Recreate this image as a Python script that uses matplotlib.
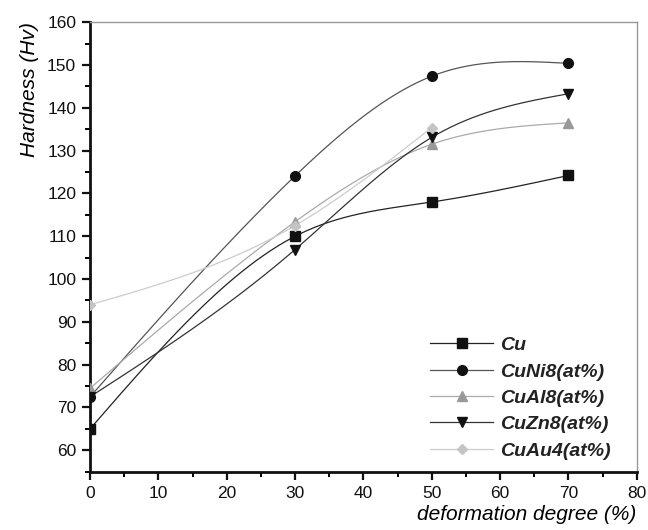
import numpy as np
import matplotlib
matplotlib.use("Agg")
import matplotlib.pyplot as plt
from matplotlib.ticker import MultipleLocator

plt.rcParams['font.family'] = ['Liberation Sans', 'DejaVu Sans']

deform = [0, 30, 50, 70]
deform_au = [0, 30, 50]
cu = [65, 110, 118, 124.2]
cuni8 = [72.5, 124.1, 147.4, 150.4]
cual8 = [74.5, 113.4, 131.5, 136.5]
cuzn8 = [72.5, 106.9, 133.1, 143.3]
cuau4 = [94, 112.5, 135.4]

labels = ["Cu", "CuNi8(at%)", "CuAl8(at%)", "CuZn8(at%)", "CuAu4(at%)"]


def natural_spline(x, y, n=200):
    x = np.asarray(x, float)
    y = np.asarray(y, float)
    k = len(x)
    h = np.diff(x)
    A = np.zeros((k, k))
    b = np.zeros(k)
    A[0, 0] = 1
    A[-1, -1] = 1
    for i in range(1, k - 1):
        A[i, i - 1] = h[i - 1]
        A[i, i] = 2 * (h[i - 1] + h[i])
        A[i, i + 1] = h[i]
        b[i] = 3 * ((y[i + 1] - y[i]) / h[i] - (y[i] - y[i - 1]) / h[i - 1])
    c = np.linalg.solve(A, b)
    xs = np.linspace(x[0], x[-1], n)
    ys = np.empty_like(xs)
    for j, xv in enumerate(xs):
        i = min(np.searchsorted(x, xv, side='right') - 1, k - 2)
        dx = xv - x[i]
        bi = (y[i + 1] - y[i]) / h[i] - h[i] * (2 * c[i] + c[i + 1]) / 3
        di = (c[i + 1] - c[i]) / (3 * h[i])
        ys[j] = y[i] + bi * dx + c[i] * dx ** 2 + di * dx ** 3
    return xs, ys


fig = plt.figure(figsize=(6.48, 5.30), dpi=100)
ax = fig.add_axes([0.139, 0.110, 0.8436, 0.848])

series = [
    (deform, cu, 's', '#111111', '#222222'),
    (deform, cuni8, 'o', '#111111', '#555555'),
    (deform, cual8, '^', '#999999', '#aaaaaa'),
    (deform, cuzn8, 'v', '#111111', '#333333'),
    (deform_au, cuau4, 'D', '#c4c4c4', '#cccccc'),
]

for (xv, yv, mk, mc, lc), lab in zip(series, labels):
    ms = 7 if mk != 'D' else 5.5
    xs, ys = natural_spline(xv, yv)
    ax.plot(xs, ys, color=lc, lw=0.9, zorder=2)
    ax.plot(xv, yv, linestyle='none', marker=mk, color=mc,
            markersize=ms, zorder=3)
    ax.plot([], [], color=lc, lw=0.9, marker=mk, markerfacecolor=mc,
            markeredgecolor=mc, markersize=ms, label=lab)

ax.set_xlim(0, 80)
ax.set_ylim(55, 160)
ax.xaxis.set_major_locator(MultipleLocator(10))
ax.xaxis.set_minor_locator(MultipleLocator(5))
ax.yaxis.set_major_locator(MultipleLocator(10))
ax.yaxis.set_minor_locator(MultipleLocator(5))
ax.set_yticks(np.arange(60, 161, 10))

for s in ['left', 'bottom']:
    ax.spines[s].set_linewidth(2.0)
    ax.spines[s].set_color('#111111')
for s in ['top', 'right']:
    ax.spines[s].set_linewidth(1.0)
    ax.spines[s].set_color('#999999')

ax.tick_params(which='major', direction='out', length=6, width=1.6,
               labelsize=12.5, colors='#111111', top=False, right=False,
               pad=4)
ax.tick_params(which='minor', direction='out', length=3.5, width=1.4,
               top=False, right=False)

ax.set_xlabel('deformation degree (%)', fontsize=15, style='italic',
              loc='right', labelpad=3)
ax.set_ylabel('Hardness (Hv)', fontsize=15, style='italic', loc='top',
              labelpad=6)

leg = ax.legend(loc='lower right', bbox_to_anchor=(0.985, -0.012), frameon=False,
                prop={'style': 'italic', 'weight': 'bold', 'size': 14},
                handlelength=3.2, labelspacing=0.45, handletextpad=0.4)
for t in leg.get_texts():
    t.set_color('#222222')

fig.savefig('out.png', dpi=100, facecolor='white')
